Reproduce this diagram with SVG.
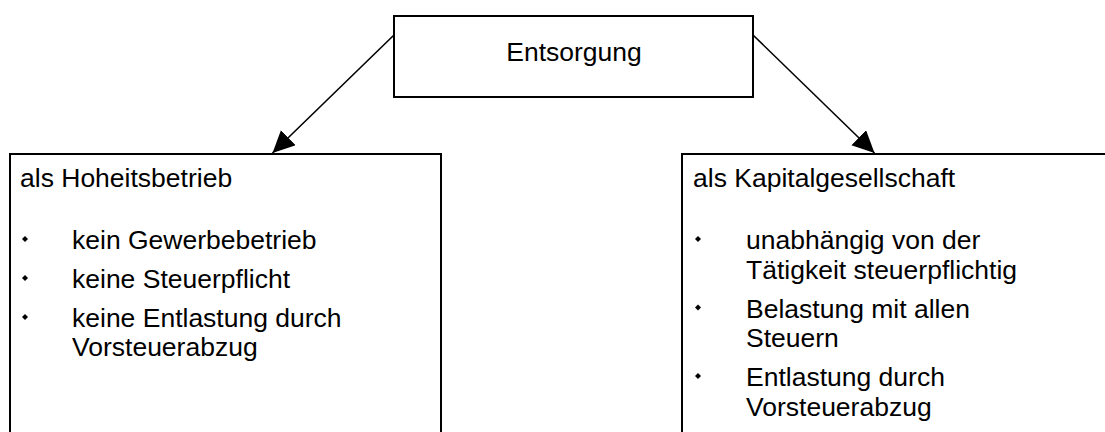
<svg xmlns="http://www.w3.org/2000/svg" width="1105" height="432" viewBox="0 0 1105 432">
  <style>
    .box { fill: #ffffff; stroke: #000000; stroke-width: 2; }
    .txt { font-family: "Liberation Sans", Arial, sans-serif; font-size: 26.5px; fill: #000000; }
    .mid { text-anchor: middle; }
    .link { fill: none; stroke: #000000; stroke-width: 1.6; marker-end: url(#arrow); }
    .dot { fill: #000000; }
  </style>
  <defs>
    <marker id="arrow" markerUnits="userSpaceOnUse" markerWidth="23" markerHeight="22" refX="22" refY="10.5" orient="auto">
      <path d="M0,0 L22,10.5 L0,21 Z" fill="#000000"/>
    </marker>
    <path id="bullet" d="M0,-3 L3,0 L0,3 L-3,0 Z"/>
  </defs>

  <!-- connectors -->
  <g id="connectors">
    <line class="link" x1="394" y1="35" x2="272.5" y2="153"/>
    <line class="link" x1="753" y1="35" x2="874.5" y2="153"/>
  </g>

  <!-- root node -->
  <g id="entsorgung">
    <rect class="box" x="394" y="16" width="359" height="81"/>
    <text class="txt mid" x="574" y="61">Entsorgung</text>
  </g>

  <!-- left branch -->
  <g id="hoheitsbetrieb">
    <rect class="box" x="10" y="154" width="431" height="300"/>
    <text class="txt" x="20" y="187">als Hoheitsbetrieb</text>
    <use href="#bullet" class="dot" x="25" y="239"/>
    <text class="txt" x="72" y="249">kein Gewerbebetrieb</text>
    <use href="#bullet" class="dot" x="25" y="278"/>
    <text class="txt" x="72" y="288">keine Steuerpflicht</text>
    <use href="#bullet" class="dot" x="25" y="317"/>
    <text class="txt" x="72" y="327">keine Entlastung durch</text>
    <text class="txt" x="72" y="356">Vorsteuerabzug</text>
  </g>

  <!-- right branch -->
  <g id="kapitalgesellschaft">
    <rect class="box" x="682" y="154" width="440" height="300"/>
    <text class="txt" x="693" y="187">als Kapitalgesellschaft</text>
    <use href="#bullet" class="dot" x="698" y="239"/>
    <text class="txt" x="746" y="249">unabhängig von der</text>
    <text class="txt" x="746" y="278.5">Tätigkeit steuerpflichtig</text>
    <use href="#bullet" class="dot" x="698" y="307.5"/>
    <text class="txt" x="746" y="317.5">Belastung mit allen</text>
    <text class="txt" x="746" y="347">Steuern</text>
    <use href="#bullet" class="dot" x="698" y="376"/>
    <text class="txt" x="746" y="386">Entlastung durch</text>
    <text class="txt" x="746" y="415.5">Vorsteuerabzug</text>
  </g>
</svg>
